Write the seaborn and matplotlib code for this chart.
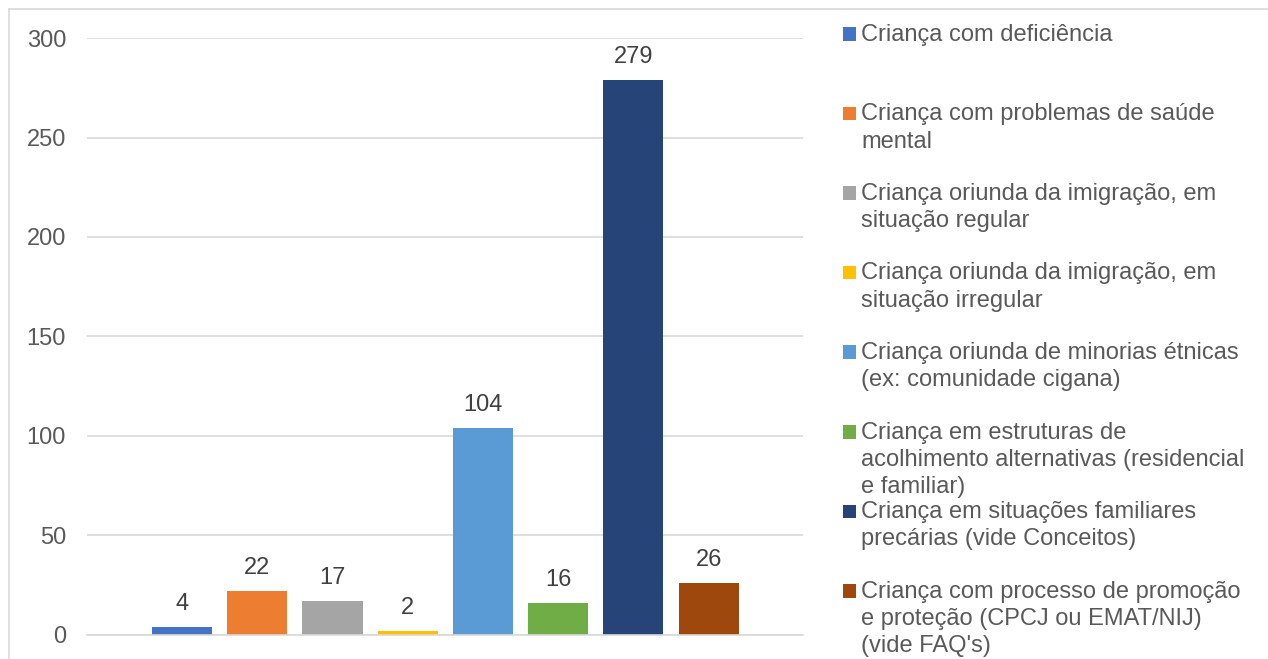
#!/usr/bin/env python3

import matplotlib.pyplot as plt
import pandas as pd
import seaborn as sns
from matplotlib.lines import Line2D
from matplotlib.patches import Rectangle


CATEGORIES = [
    "Criança com deficiência",
    "Criança com problemas de saúde\nmental",
    "Criança oriunda da imigração, em\nsituação regular",
    "Criança oriunda da imigração, em\nsituação irregular",
    "Criança oriunda de minorias étnicas\n(ex: comunidade cigana)",
    "Criança em estruturas de\nacolhimento alternativas (residencial\ne familiar)",
    "Criança em situações familiares\nprecárias (vide Conceitos)",
    "Criança com processo de promoção\ne proteção (CPCJ ou EMAT/NIJ)\n(vide FAQ's)",
]
VALUES = [4, 22, 17, 2, 104, 16, 279, 26]
COLORS = ["#4472C4", "#ED7D31", "#A5A5A5", "#FFC000", "#5B9BD5", "#70AD47", "#264478", "#9E480E"]
Y_TICKS = [0, 50, 100, 150, 200, 250, 300]

W, H = 1268, 659
GRID = "#D9D9D9"
TEXT = "#595959"
FONT = 17


def px(x, y):
    # figure pixel (from top-left) -> figure fraction
    return x / W, 1 - y / H


def main() -> None:
    sns.set_theme(style="white")
    plt.rcParams.update(
        {
            "font.family": ["Liberation Sans", "DejaVu Sans"],
            "font.size": FONT,
        }
    )
    frame = pd.DataFrame({"categoria": CATEGORIES, "valor": VALUES})

    fig = plt.figure(figsize=(W / 100, H / 100), dpi=100)
    left, right, top, bottom = 87.3, 803, 38.2, 634.5
    ax = fig.add_axes([left / W, 1 - bottom / H, (right - left) / W, (bottom - top) / H])

    sns.barplot(
        data=frame,
        x="categoria",
        y="valor",
        hue="categoria",
        palette=COLORS,
        legend=False,
        width=0.8,
        saturation=1,
        linewidth=0,
        ax=ax,
    )
    ax.set_xlim(-1.259, 8.255)
    ax.set_ylim(0, 300)
    ax.set_yticks(Y_TICKS)
    ax.set_xticks([])
    ax.set_xlabel("")
    ax.set_ylabel("")
    ax.grid(True, axis="y", color=GRID, linewidth=1.2)
    ax.set_axisbelow(True)
    for side in ["left", "right", "top"]:
        ax.spines[side].set_visible(False)
    ax.spines["bottom"].set_color(GRID)
    ax.spines["bottom"].set_linewidth(1.2)
    ax.tick_params(axis="y", length=0, pad=15.3, labelsize=FONT, labelcolor=TEXT)

    for container in ax.containers:
        for bar in container:
            value = bar.get_height()
            ax.annotate(
                f"{value:.0f}",
                (bar.get_x() + bar.get_width() / 2, value),
                xytext=(0, 17),
                textcoords="offset pixels",
                ha="center",
                va="baseline",
                fontsize=FONT,
                color="#404040",
            )

    # legend drawn as Excel lays it out: fixed slots, wrapped text
    for index, (label, color) in enumerate(zip(CATEGORIES, COLORS)):
        baseline = 40.5 + index * 79.6
        x0, y0 = px(843, baseline)
        fig.add_artist(
            Rectangle((x0, y0), 13 / W, 13.5 / H, transform=fig.transFigure, color=color, lw=0)
        )
        for line_no, line in enumerate(label.split("\n")):
            tx, ty = px(861, baseline + line_no * 27.4)
            fig.text(tx, ty, line, ha="left", va="baseline", fontsize=FONT, color=TEXT)

    # chart area border (top and left visible in the crop)
    fig.add_artist(Line2D([9 / W, 1], [1 - 9.3 / H] * 2, transform=fig.transFigure, color=GRID, lw=1.2))
    fig.add_artist(Line2D([9 / W] * 2, [0, 1 - 9.3 / H], transform=fig.transFigure, color=GRID, lw=1.2))

    fig.savefig("out.png", dpi=100, facecolor="white")
    plt.close(fig)


if __name__ == "__main__":
    main()
